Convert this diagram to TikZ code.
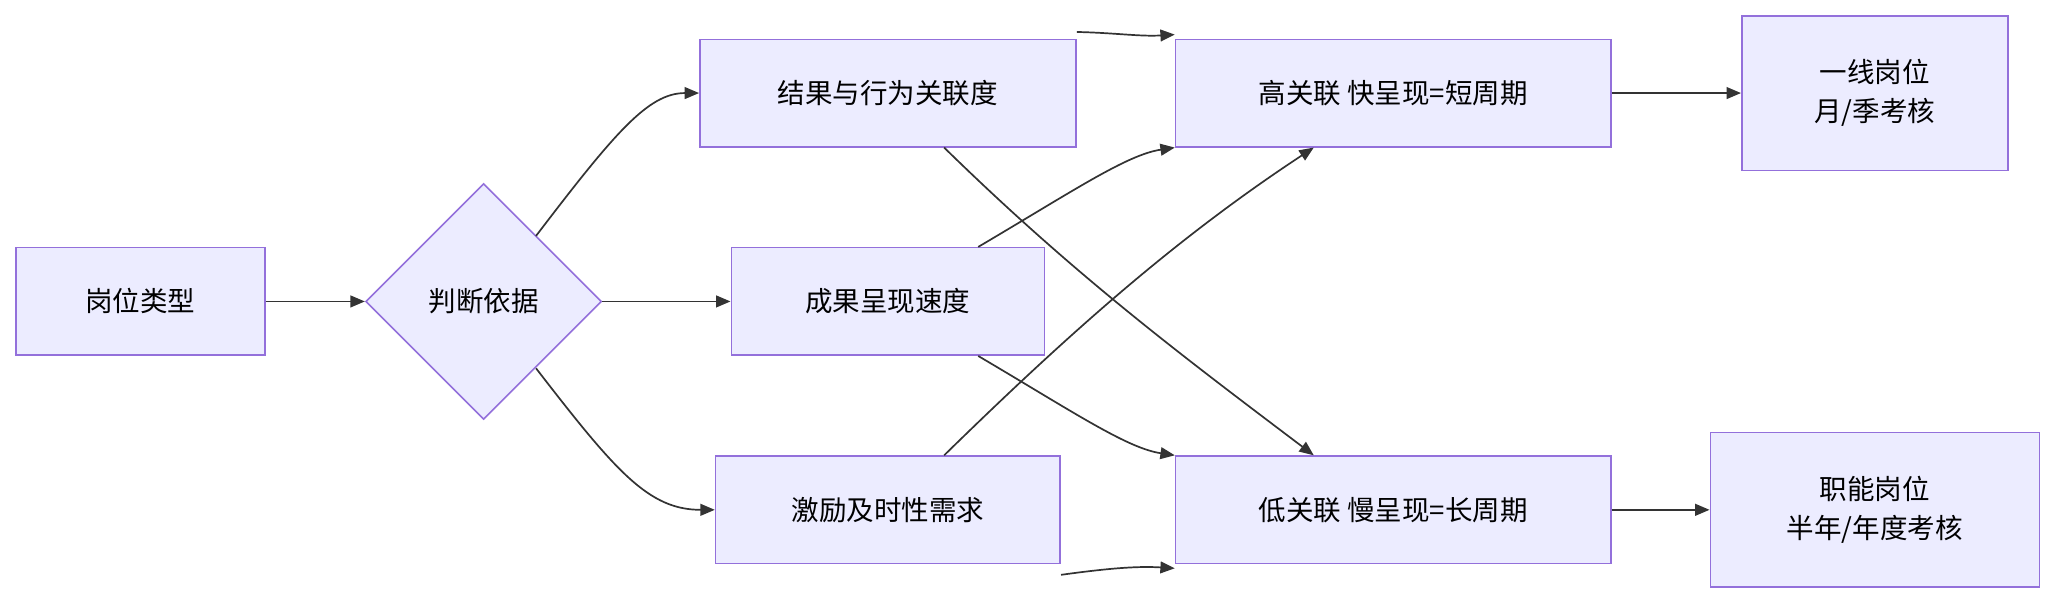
\documentclass[tikz,border=0pt]{standalone}
\usepackage{fontspec}
\setmainfont{Noto Sans CJK SC}
\usetikzlibrary{shapes.geometric,arrows.meta,calc}
\begin{document}
\begin{tikzpicture}[x=1pt,y=-1pt,
  box/.style={draw=mmborder,fill=mmfill,line width=1.2pt,minimum height=82pt,align=center,font=\fontsize{21}{30}\selectfont,inner sep=0pt},
  ar/.style={draw=mmline,line width=1.3pt,-{Triangle[length=11pt,width=9pt]}}]
\definecolor{mmfill}{HTML}{ECECFF}
\definecolor{mmborder}{HTML}{9370DB}
\definecolor{mmline}{HTML}{333333}
\useasboundingbox (0,0) rectangle (1568,461);
\node[box,minimum width=190pt] (a) at (107,230) {岗位类型};
\node[draw=mmborder,fill=mmfill,line width=1.2pt,diamond,minimum width=180pt,minimum height=180pt,inner sep=0pt,font=\fontsize{21}{30}\selectfont] (d) at (369,230) {判断依据};
\node[box,minimum width=287pt] (r1) at (677.5,71) {结果与行为关联度};
\node[box,minimum width=239pt] (r2) at (677.5,230) {成果呈现速度};
\node[box,minimum width=263pt] (r3) at (677.5,389) {激励及时性需求};
\node[box,minimum width=332pt] (h) at (1063,71) {高关联 快呈现=短周期};
\node[box,minimum width=332pt] (l) at (1063,389) {低关联 慢呈现=长周期};
\node[box,minimum width=203pt,minimum height=118pt] (y) at (1430.5,71) {一线岗位\\月/季考核};
\node[box,minimum width=251pt,minimum height=118pt] (z) at (1430.5,389) {职能岗位\\半年/年度考核};
\draw[ar] (a) -- (d);
\draw[ar] (d) -- (r2);
\draw[ar] (409,180) .. controls (470,100) and (495,71) .. (r1.west);
\draw[ar] (409,281) .. controls (470,360) and (495,389) .. (r3.west);
\draw[ar] ([yshift=5pt]r1.north east) .. controls (850,25) and (870,28) .. ([yshift=3pt]h.north west);
\draw[ar] ([xshift=187pt]r1.south west) .. controls (820,210) and (900,270) .. ([xshift=106pt]l.north west);
\draw[ar] ([xshift=189pt]r2.north west) .. controls (820,145) and (860,118) .. (h.south west);
\draw[ar] ([xshift=189pt]r2.south west) .. controls (820,315) and (860,342) .. (l.north west);
\draw[ar] ([xshift=175pt]r3.north west) .. controls (820,250) and (900,180) .. ([xshift=106pt]h.south west);
\draw[ar] ([yshift=-8pt]r3.south east) .. controls (850,433) and (870,432) .. ([yshift=-3pt]l.south west);
\draw[ar] (h) -- (y);
\draw[ar] (l) -- (z);
\end{tikzpicture}
\end{document}
